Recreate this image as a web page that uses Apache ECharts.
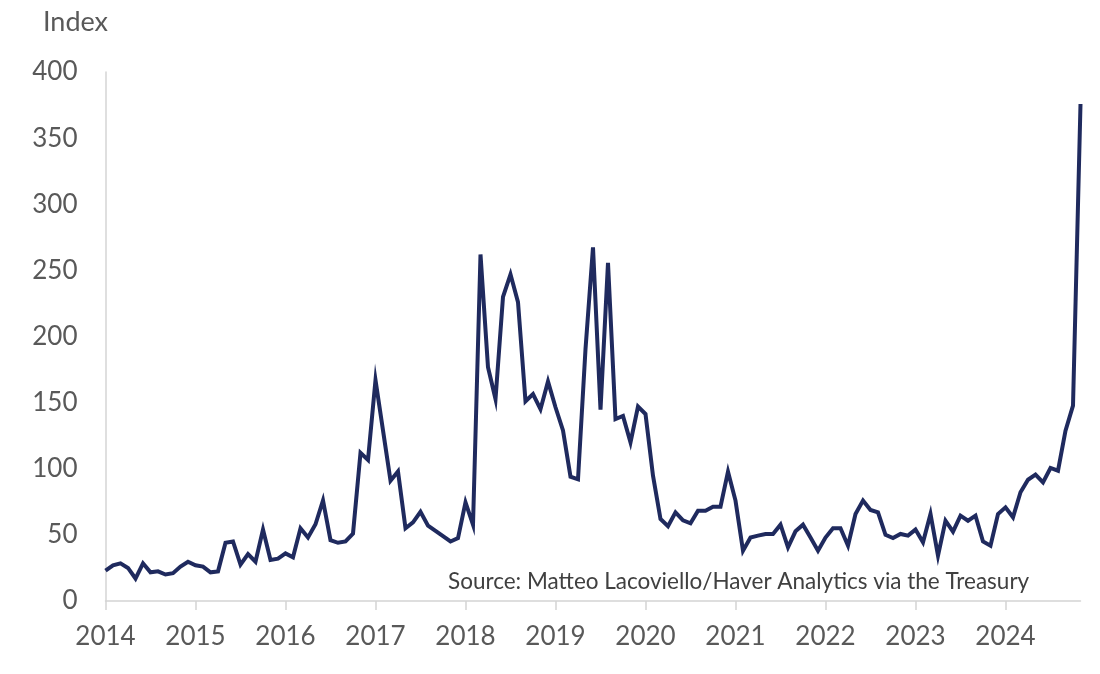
<!DOCTYPE html>
<html>
<head>
<meta charset="utf-8">
<script src="https://cdn.jsdelivr.net/npm/echarts@6/dist/echarts.min.js"></script>
<style>
  html, body { margin: 0; padding: 0; background: #fff; }
  #chart { width: 1100px; height: 674px; }
</style>
</head>
<body>
<div id="chart"></div>
<script>
// monthly index, Jan 2014 .. Nov 2024
const startYear = 2014;
const values2014 = [23, 27, 28.5, 25, 17, 28.5, 21.7, 22.4, 20, 21, 26, 29.7];
const values2015 = [27, 26, 21.7, 22.4, 44, 45, 27.5, 35.5, 29.7, 54, 31, 32];
const values2016 = [36, 33, 55, 48, 58, 76, 46, 44, 45, 51, 112, 106.6];
const values2017 = [167, 129, 91, 98, 55, 59.5, 67.5, 57, 53, 49, 45, 47.6];
const values2018 = [74.6, 57.7, 262, 176.7, 152.7, 230, 247, 226, 151, 156.5, 145, 166];
const values2019 = [146.5, 129, 94, 92, 190.5, 267.4, 144.7, 255.6, 137.6, 140, 120, 147];
const values2020 = [141.4, 94.8, 62, 56.5, 67, 61, 58.7, 68.3, 68.3, 71.3, 71.3, 97.8];
const values2021 = [75.9, 38, 48, 49.4, 50.7, 50.7, 57.7, 40.6, 52.7, 57.7, 48, 38];
const values2022 = [48, 55, 55, 41.8, 65.8, 75.9, 68.8, 67, 50, 47.6, 50.7, 49.4];
const values2023 = [54, 44.4, 65.8, 34.3, 60.7, 52.4, 64.5, 60.7, 64.5, 45, 41.8, 65.8];
const values2024 = [70.8, 63.3, 82.2, 91.7, 95.5, 89.7, 100.6, 98.5, 128.8, 147.7, 375.8];

const values = [].concat(values2014, values2015, values2016, values2017, values2018,
  values2019, values2020, values2021, values2022, values2023, values2024);

const months = values.map((v, i) => {
  const y = startYear + Math.floor(i / 12);
  const m = (i % 12) + 1;
  return y + '-' + (m < 10 ? '0' + m : m);
});

const yTicks = { min: 0, max: 400, interval: 50 };
const sourceText = 'Source: Matteo Lacoviello/Haver Analytics via the Treasury';

const textColor = '#595959';
const font = 'Lato, "Open Sans", sans-serif';

const chart = echarts.init(document.getElementById('chart'));
chart.setOption({
  backgroundColor: '#fff',
  animation: false,
  title: {
    text: 'Index',
    left: 38,
    top: 4,
    textStyle: { color: textColor, fontSize: 27, fontWeight: 'normal', fontFamily: font }
  },
  grid: { left: 105.5, right: 19.5, top: 72, bottom: 73, containLabel: false },
  xAxis: {
    type: 'category',
    data: months,
    boundaryGap: false,
    axisLine: { lineStyle: { color: '#d4d4d4', width: 1.5 } },
    axisTick: {
      show: true,
      length: 9,
      interval: i => i % 12 === 0,
      lineStyle: { color: '#d4d4d4', width: 1.5 }
    },
    axisLabel: {
      interval: i => i % 12 === 0,
      formatter: v => v.slice(0, 4),
      margin: 23,
      color: textColor,
      fontSize: 26,
      fontFamily: font
    },
    splitLine: { show: false }
  },
  yAxis: {
    type: 'value',
    min: yTicks.min,
    max: yTicks.max,
    interval: yTicks.interval,
    axisLine: { show: true, lineStyle: { color: '#d4d4d4', width: 1.5 } },
    axisTick: { show: false },
    axisLabel: { margin: 28, color: textColor, fontSize: 26, fontFamily: font },
    splitLine: { show: false }
  },
  graphic: [{
    type: 'text',
    left: 448,
    top: 570,
    style: { text: sourceText, fill: '#404040', fontSize: 22.5, fontFamily: font }
  }],
  series: [{
    type: 'line',
    data: values,
    symbol: 'none',
    lineStyle: { color: '#1f2a5e', width: 4, join: 'miter' }
  }]
});
</script>
</body>
</html>
